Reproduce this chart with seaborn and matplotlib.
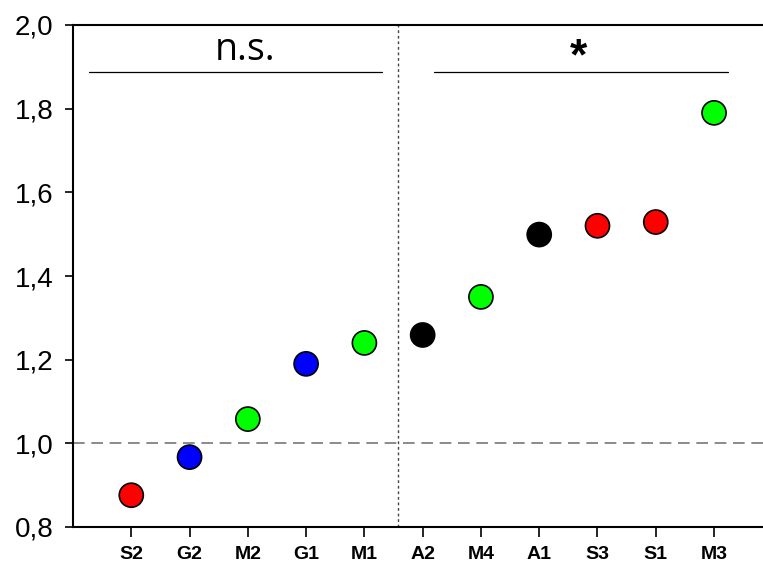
import matplotlib
matplotlib.use("Agg")
import matplotlib.pyplot as plt
import seaborn as sns
import pandas as pd
from matplotlib.ticker import FuncFormatter

categories = ["S2", "G2", "M2", "G1", "M1", "A2", "M4", "A1", "S3", "S1", "M3"]
values = [0.876, 0.967, 1.058, 1.19, 1.24, 1.259, 1.35, 1.499, 1.52, 1.529, 1.79]
groups = ["S", "G", "M", "G", "M", "A", "M", "A", "S", "S", "M"]
group_colors = {"S": "#ff0000", "G": "#0000ff", "M": "#00ff00", "A": "#000000"}

df = pd.DataFrame({"cat": categories, "val": values, "grp": groups})

sns.set_theme(style="white")
plt.rcParams["font.family"] = ["Liberation Sans", "DejaVu Sans"]
plt.rcParams["text.color"] = "black"
plt.rcParams["xtick.color"] = "black"
plt.rcParams["ytick.color"] = "black"

fig = plt.figure(figsize=(7.63, 5.68), dpi=100)
ax = fig.add_axes([73 / 763, 1 - 527 / 568, (763 - 73) / 763, (527 - 25) / 568])

sns.scatterplot(data=df, x="cat", y="val", hue="grp", palette=group_colors,
                s=300, edgecolor="black", linewidth=1.2, legend=False, ax=ax, zorder=3)

ax.set_ylim(0.8, 2.0)
ax.set_xlim(-1.0, 10.84)
ax.set_yticks([0.8, 1.0, 1.2, 1.4, 1.6, 1.8, 2.0])
ax.yaxis.set_major_formatter(FuncFormatter(lambda v, p: f"{v:.1f}".replace(".", ",")))
ax.set_xlabel("")
ax.set_ylabel("")

ax.axhline(1.0, color="#777777", linestyle=(0, (7, 4)), linewidth=1.2, zorder=1)
ax.axvline(4.57, color="#444444", linestyle=(0, (2, 2)), linewidth=1.0, zorder=1)

ax.plot([-0.72, 4.31], [1.888, 1.888], color="black", linewidth=0.9)
ax.plot([5.2, 10.24], [1.888, 1.888], color="black", linewidth=0.9)
ax.text(1.95, 1.916, "n.s.", ha="center", va="baseline", fontsize=27,
        family="Open Sans", color="black")
ax.text(7.68, 1.921, "*", ha="center", va="center", fontsize=32,
        family="Liberation Sans", fontweight="bold", color="black")

for side in ["left", "bottom", "top"]:
    ax.spines[side].set_visible(True)
    ax.spines[side].set_color("black")
    ax.spines[side].set_linewidth(1.5)
ax.spines["right"].set_visible(False)

ax.tick_params(axis="y", which="major", direction="out", length=6, width=1.2,
               color="black", labelcolor="black", labelsize=20, left=True, pad=8)
ax.tick_params(axis="x", which="major", direction="out", length=7, width=1.2,
               color="black", labelcolor="black", labelsize=14, bottom=True, pad=7)
for lbl in ax.get_xticklabels():
    lbl.set_fontweight("bold")

fig.savefig("out.png", dpi=100)
